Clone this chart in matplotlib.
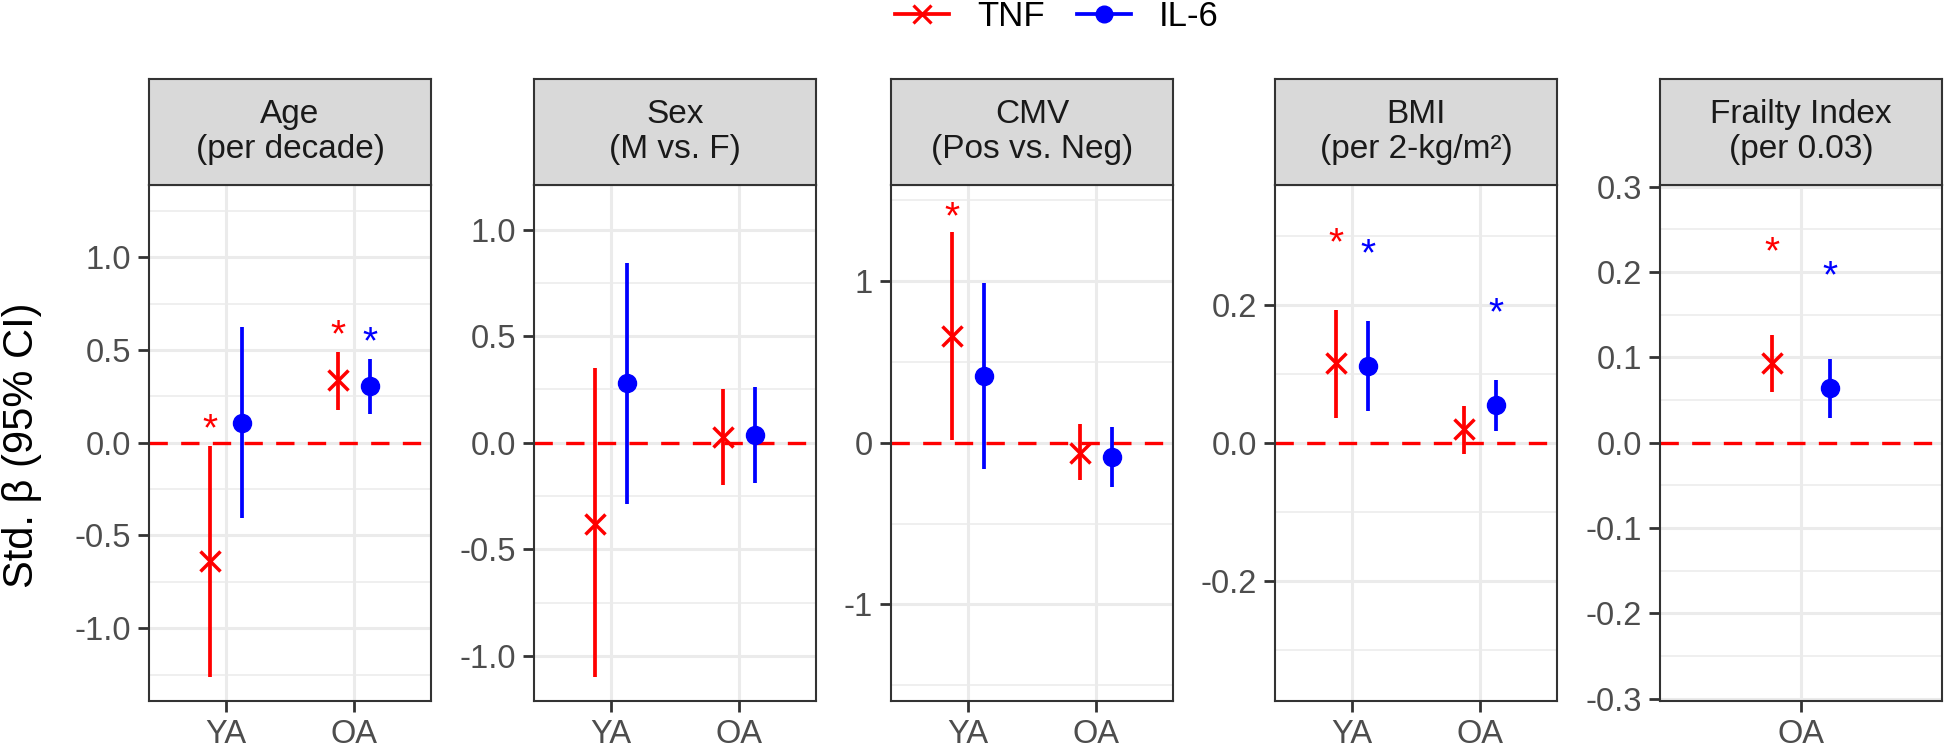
import matplotlib
matplotlib.use("Agg")
import matplotlib.pyplot as plt
from matplotlib.lines import Line2D

plt.rcParams['font.family'] = ['Liberation Sans', 'DejaVu Sans']
plt.rcParams['axes.unicode_minus'] = False

# ---- data ----
panels = ["Age\n(per decade)", "Sex\n(M vs. F)", "CMV\n(Pos vs. Neg)",
          "BMI\n(per 2-kg/m²)", "Frailty Index\n(per 0.03)"]
groups = [["YA", "OA"], ["YA", "OA"], ["YA", "OA"], ["YA", "OA"], ["OA"]]

tnf_est = [[-0.64, 0.336], [-0.383, 0.027], [0.659, -0.062], [0.115, 0.020], [0.093]]
tnf_lo = [[-1.264, 0.174], [-1.099, -0.196], [0.018, -0.233], [0.036, -0.017], [0.059]]
tnf_hi = [[-0.018, 0.489], [0.350, 0.250], [1.305, 0.113], [0.192, 0.054], [0.126]]
tnf_sig = [[True, True], [False, False], [True, False], [True, False], [True]]

il6_est = [[0.108, 0.304], [0.279, 0.037], [0.413, -0.090], [0.112, 0.055], [0.064]]
il6_lo = [[-0.407, 0.156], [-0.289, -0.190], [-0.164, -0.272], [0.046, 0.017], [0.029]]
il6_hi = [[0.622, 0.453], [0.845, 0.260], [0.990, 0.095], [0.177, 0.091], [0.098]]
il6_sig = [[False, True], [False, False], [False, False], [True, True], [True]]

y_limits = [1.39, 1.21, 1.595, 0.374, 0.302]
y_major = [[-1.0, -0.5, 0.0, 0.5, 1.0], [-1.0, -0.5, 0.0, 0.5, 1.0], [-1, 0, 1],
           [-0.2, 0.0, 0.2], [-0.3, -0.2, -0.1, 0.0, 0.1, 0.2, 0.3]]
y_minor = [[-1.25, -0.75, -0.25, 0.25, 0.75, 1.25], [-0.75, -0.25, 0.25, 0.75],
           [-1.5, -0.5, 0.5, 1.5], [-0.3, -0.1, 0.1, 0.3],
           [-0.25, -0.15, -0.05, 0.05, 0.15, 0.25]]
y_fmt = ["{:.1f}", "{:.1f}", "{:.0f}", "{:.1f}", "{:.1f}"]
star_gap = [0.15, 0.15, 0.16, 0.113, 0.11]

# ---- layout (pixels) ----
W, H = 1944, 748
panel_left = [149, 534, 891, 1275, 1660]
panel_w = 282
top, bottom, strip_top = 185, 700.5, 79
dodge = 0.125

fig = plt.figure(figsize=(W / 100, H / 100), dpi=100)

for i, name in enumerate(panels):
    l = panel_left[i]
    ax = fig.add_axes([l / W, 1 - bottom / H, panel_w / W, (bottom - top) / H])
    sax = fig.add_axes([l / W, 1 - top / H, panel_w / W, (top - strip_top) / H])

    n = len(groups[i])
    xs = list(range(1, n + 1))
    ax.set_xlim(0.4, n + 0.6)
    ax.set_ylim(-y_limits[i], y_limits[i])

    ax.axhline(0, color='red', lw=2.4, ls=(0, (5.5, 4)), zorder=2)

    for j, x in enumerate(xs):
        xt, xi = x - dodge, x + dodge
        ax.vlines(xt, tnf_lo[i][j], tnf_hi[i][j], color='red', lw=2.7, zorder=3)
        ax.plot(xt, tnf_est[i][j], marker='x', ms=15, mew=2.5, color='red', ls='none', zorder=4)
        ax.vlines(xi, il6_lo[i][j], il6_hi[i][j], color='blue', lw=2.7, zorder=3)
        ax.plot(xi, il6_est[i][j], marker='o', ms=13, color='blue', ls='none', zorder=4)
        if tnf_sig[i][j]:
            ax.annotate('*', (xt, tnf_hi[i][j] + star_gap[i]), xytext=(0, -16),
                        textcoords='offset points', ha='center', va='baseline',
                        fontsize=28, color='red')
        if il6_sig[i][j]:
            ax.annotate('*', (xi, il6_hi[i][j] + star_gap[i]), xytext=(0, -16),
                        textcoords='offset points', ha='center', va='baseline',
                        fontsize=28, color='blue')

    ax.set_xticks(xs)
    ax.set_xticklabels(groups[i])
    ax.set_yticks(y_major[i])
    ax.set_yticklabels([y_fmt[i].format(v) for v in y_major[i]])
    ax.set_yticks(y_minor[i], minor=True)
    ax.grid(which='major', color='#EBEBEB', lw=2.2)
    ax.grid(which='minor', axis='y', color='#EBEBEB', lw=1.1)
    ax.set_axisbelow(True)
    ax.tick_params(which='major', length=8, width=2, color='#333333',
                   labelsize=23.5, labelcolor='#4D4D4D', pad=5)
    ax.tick_params(which='minor', length=0)
    for s in ax.spines.values():
        s.set_color('#333333')
        s.set_linewidth(1.5)

    sax.set_facecolor('#D9D9D9')
    sax.set_xticks([])
    sax.set_yticks([])
    for s in sax.spines.values():
        s.set_color('#333333')
        s.set_linewidth(1.5)
    sax.text(0.5, 0.5, name, ha='center', va='center', fontsize=24,
             color='#1A1A1A', transform=sax.transAxes)

fig.text(22 / W, 1 - 445 / H, 'Std. β (95% CI)', rotation=90, fontsize=30,
         ha='center', va='center')

handles = [Line2D([], [], color='red', lw=2.7, marker='x', ms=13, mew=2.3),
           Line2D([], [], color='blue', lw=2.7, marker='o', ms=12)]
fig.legend(handles, ['TNF', 'IL-6'], loc='center', bbox_to_anchor=(1057 / W, 1 - 17 / H),
           ncol=2, frameon=False, fontsize=25, handlelength=1.55, handletextpad=0.8,
           columnspacing=0.95)

fig.savefig('out.png', dpi=100)
